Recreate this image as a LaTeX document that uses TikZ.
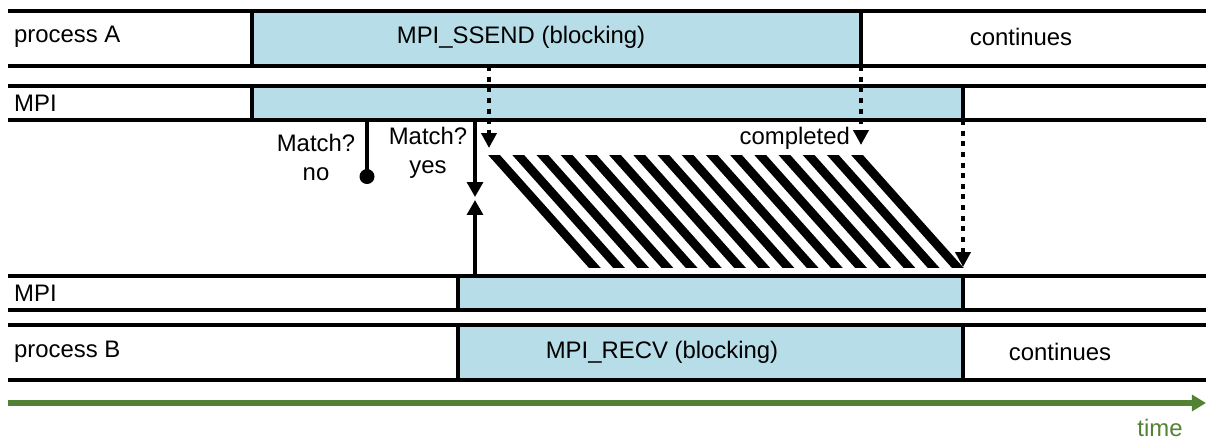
\documentclass[tikz,border=0pt]{standalone}
\usepackage{fontspec}
\setmainfont{Liberation Sans}
\usetikzlibrary{arrows.meta}
\definecolor{callblue}{RGB}{183,222,232}
\definecolor{timegreen}{RGB}{84,130,53}

\begin{document}
\begin{tikzpicture}[x=0.02cm, y=-0.02cm,
    every node/.style={font=\fontsize{13.6}{16.5}\selectfont},
    rail/.style={line width=2.6pt},
    sep/.style={line width=1.9pt},
    call/.style={fill=callblue},
    sig/.style={line width=2.8pt, dash pattern=on 2.85pt off 3.2pt,
                -{Triangle[width=8.5pt, length=8.5pt]}},
    hs/.style={line width=2pt, -{Triangle[width=9pt, length=8.5pt]}},
    probe/.style={line width=2pt, -{Circle[length=8.5pt]}},
    stripe/.style={line width=5pt},
  ]
  \useasboundingbox (0,0) rectangle (1206,439);

  % process A
  \fill[call] (252,11) rectangle (861,66);
  \draw[sep] (252,11) -- (252,66) (861,11) -- (861,66);
  \draw[rail] (8,11) -- (1206,11) (8,66) -- (1206,66);
  % MPI on the sender side
  \fill[call] (252,86) rectangle (963,120);
  \draw[sep] (252,86) -- (252,120) (963,86) -- (963,120);
  \draw[rail] (8,86) -- (1206,86) (8,120) -- (1206,120);
  % MPI on the receiver side
  \fill[call] (458,276) rectangle (963,310);
  \draw[sep] (458,276) -- (458,310) (963,276) -- (963,310);
  \draw[rail] (8,276) -- (1206,276) (8,310) -- (1206,310);
  % process B
  \fill[call] (458,325) rectangle (963,380);
  \draw[sep] (458,325) -- (458,380) (963,325) -- (963,380);
  \draw[rail] (8,325) -- (1206,325) (8,380) -- (1206,380);

  \node[anchor=west] (pA) at (8,37) {process A};
  \node (ssend) at (521,37) {MPI\_SSEND (blocking)};
  \node (contA) at (1021,37) {continues};
  \node[anchor=west] (mpiA) at (8,103) {MPI};
  \node[anchor=west] (mpiB) at (8,293) {MPI};
  \node[anchor=west] (pB) at (8,352) {process B};
  \node (recv) at (662,352) {MPI\_RECV (blocking)};
  \node (contB) at (1060,352) {continues};

  % matching the envelope
  \node[align=center] (mNo) at (316,157) {Match?\\no};
  \node[align=center] (mYes) at (428,153) {Match?\\yes};
  \coordinate (noTop) at (367,120);
  \coordinate (noEnd) at (367,184);
  \draw[probe] (noTop) -- (noEnd);
  \coordinate (yesTop) at (475,120);
  \coordinate (yesMid) at (475,197);
  \coordinate (yesBot) at (475,277);
  \coordinate (yesUp) at (475,200);
  \draw[hs] (yesTop) -- (yesMid);
  \draw[hs] (yesBot) -- (yesUp);

  % data transfer
  \begin{scope}
    \clip (480,155) rectangle (975,267);
    \foreach \k in {0,...,15}
      \draw[stripe] ({494+24.2*\k-10},143.8) -- ++(120,134.4);
  \end{scope}

  % notifications
  \coordinate (reqTop) at (489,66);
  \coordinate (reqEnd) at (489,148);
  \draw[sig] (reqTop) -- (reqEnd);
  \coordinate (cplTop) at (861,66);
  \coordinate (cplEnd) at (861,145);
  \draw[sig] (cplTop) -- (cplEnd);
  \node[anchor=east, inner sep=1pt] (cpl) at (852,138) {completed};
  \coordinate (recvTop) at (963,120);
  \coordinate (recvEnd) at (963,267);
  \draw[sig] (recvTop) -- (recvEnd);

  % time axis
  \coordinate (t0) at (8,403);
  \coordinate (t1) at (1206,403);
  \draw[timegreen, line width=3.2pt, -{Triangle[width=9pt, length=8pt]}] (t0) -- (t1);
  \node[text=timegreen] (tlbl) at (1160,428) {time};
\end{tikzpicture}
\end{document}
